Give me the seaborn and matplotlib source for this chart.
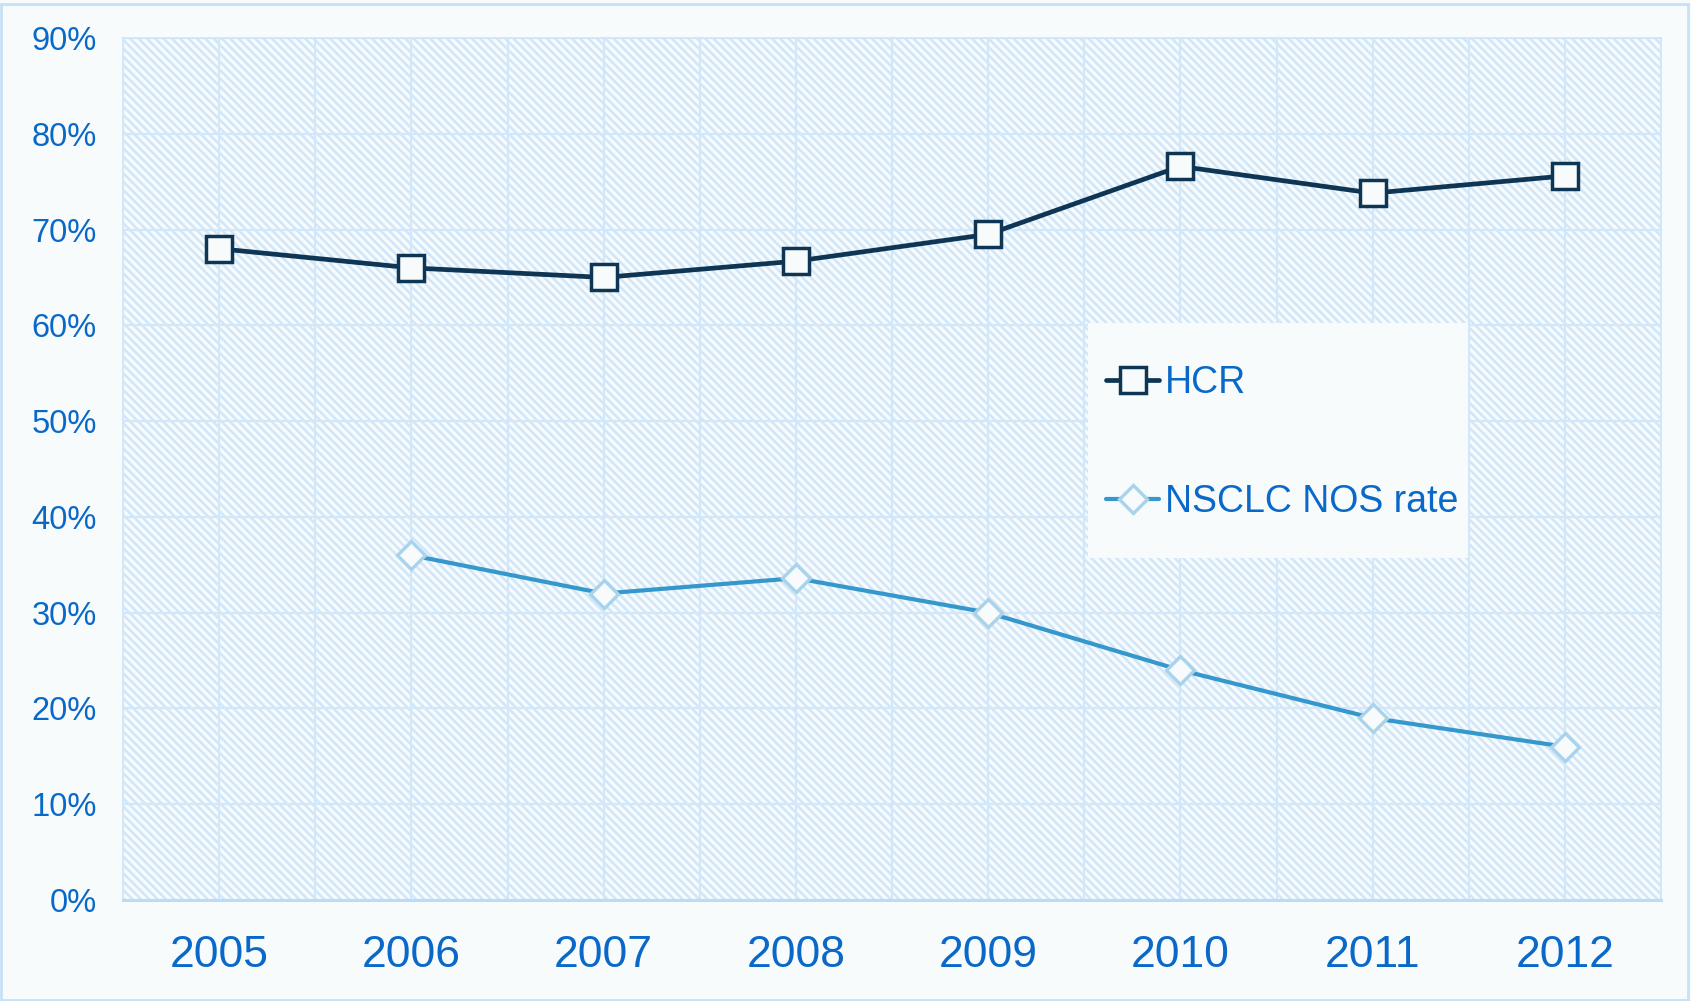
import numpy as np
import pandas as pd
import matplotlib
matplotlib.use("Agg")
import matplotlib.pyplot as plt
import seaborn as sns
from matplotlib.patches import Rectangle
from matplotlib.ticker import FuncFormatter

years = ["2005", "2006", "2007", "2008", "2009", "2010", "2011", "2012"]
hcr = [68.0, 66.0, 65.0, 66.7, 69.5, 76.6, 73.8, 75.6]
nsclc_nos = [np.nan, 36.0, 32.0, 33.6, 30.0, 24.0, 19.0, 16.0]
series_names = ["HCR", "NSCLC NOS rate"]
y_ticks = [0, 10, 20, 30, 40, 50, 60, 70, 80, 90]

sns.set_style("white")
plt.rcParams["font.family"] = ["Liberation Sans", "DejaVu Sans"]
plt.rcParams["hatch.linewidth"] = 1.8

BG = "#F8FBFC"
HATCH = "#D0E6FA"
GRID = "#D3E7FA"
TXT = "#0A69C8"
HCR_C = "#0E3553"
NOS_C = "#3598CC"
NOS_EDGE = "#A9D3EA"

fig = plt.figure(figsize=(16.91, 10.01), dpi=100, facecolor=BG)
fig.patches.append(Rectangle((0.0005, 0.0005), 0.998, 0.9955, transform=fig.transFigure,
                             facecolor="none", edgecolor="#C6E0F7", lw=2.0))
ax = fig.add_axes([123 / 1691, 1 - 900 / 1001, 1538 / 1691, 862 / 1001])
ax.set_facecolor(BG)

df = pd.DataFrame({"year": years, series_names[0]: hcr, series_names[1]: nsclc_nos})

sns.lineplot(data=df, x="year", y=series_names[0], ax=ax, color=HCR_C, lw=3.4,
             marker="s", markersize=19, markerfacecolor=BG, markeredgecolor=HCR_C,
             markeredgewidth=2.5, label=series_names[0], zorder=5)
sns.lineplot(data=df.dropna(), x="year", y=series_names[1], ax=ax, color=NOS_C, lw=3.0,
             marker="D", markersize=14, markerfacecolor=BG, markeredgecolor=NOS_EDGE,
             markeredgewidth=2.4, label=series_names[1], zorder=5)

# hatched background
ax.add_patch(Rectangle((0, 0), 1, 1, transform=ax.transAxes, facecolor=BG,
                       edgecolor=HATCH, hatch="\\\\\\\\", lw=0, zorder=0.1))

ax.set_xlim(-0.5, len(years) - 0.5)
ax.set_ylim(0, 90)
ax.set_yticks(y_ticks)
ax.yaxis.set_major_formatter(FuncFormatter(lambda v, p: f"{int(v)}%"))
ax.set_xticks(range(len(years)))
ax.set_xticks(np.arange(-0.5, len(years), 1.0), minor=True)
ax.set_axisbelow(True)
ax.grid(axis="y", which="major", color=GRID, lw=1.6)
ax.grid(axis="x", which="both", color=GRID, lw=1.6)

ax.tick_params(axis="y", length=0, pad=19, labelsize=23.5, labelcolor=TXT)
ax.tick_params(axis="x", which="both", length=0, pad=25, labelsize=32, labelcolor=TXT)
ax.set_xlabel("")
ax.set_ylabel("")
for s in ax.spines.values():
    s.set_color("#CFE5FA")
    s.set_linewidth(1.2)
ax.spines["bottom"].set_color("#BBDCF8")
ax.spines["bottom"].set_linewidth(2.2)

# legend background box
ax.add_patch(Rectangle(((1088 - 123) / 1538, (900 - 558) / 862), 380 / 1538, 235 / 862,
                       transform=ax.transAxes, facecolor=BG, edgecolor="none", zorder=3))
leg = ax.legend(loc="upper left", bbox_to_anchor=((1106 - 123) / 1538, (900 - 365) / 862),
                frameon=False, fontsize=27, handlelength=1.42, handletextpad=0.15,
                labelspacing=2.22, borderpad=0, borderaxespad=0)
leg.set_zorder(6)
for t in leg.get_texts():
    t.set_color(TXT)

fig.savefig("out.png", dpi=100, facecolor=BG)
